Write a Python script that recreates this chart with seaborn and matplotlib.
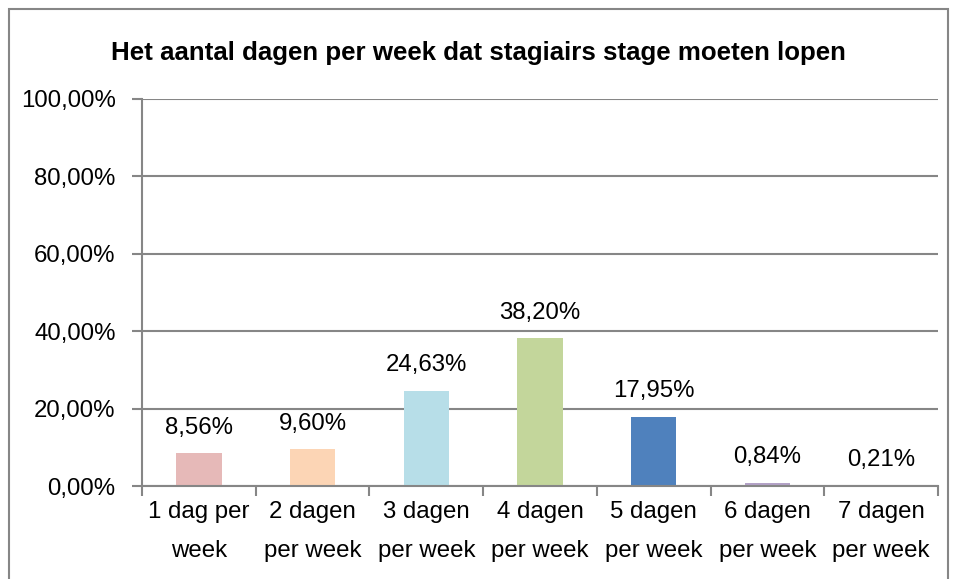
import matplotlib
matplotlib.use("Agg")
import matplotlib.pyplot as plt
import seaborn as sns
import pandas as pd
from matplotlib.patches import Rectangle

# Chart data
categories = ["1 dag per\nweek", "2 dagen\nper week", "3 dagen\nper week", "4 dagen\nper week",
              "5 dagen\nper week", "6 dagen\nper week", "7 dagen\nper week"]
percentages = [8.56, 9.60, 24.63, 38.20, 17.95, 0.84, 0.21]
bar_colors = ["#E6B9B8", "#FCD5B5", "#B7DEE8", "#C3D69B", "#4F81BD", "#B3A2C7", "#FAC090"]
y_ticks = [0, 20, 40, 60, 80, 100]
title = "Het aantal dagen per week dat stagiairs stage moeten lopen"

sns.set_style("white")
plt.rcParams["font.family"] = ["Liberation Sans", "DejaVu Sans"]

GRAY = "#868686"
FS = 17.3

df = pd.DataFrame({"cat": categories, "pct": percentages})

fig = plt.figure(figsize=(9.57, 5.79), dpi=100)
ax = fig.add_axes([142 / 957, 1 - 486 / 579, (938 - 142) / 957, (486 - 99) / 579])

sns.barplot(data=df, x="cat", y="pct", hue="cat", palette=bar_colors,
            width=0.4, legend=False, ax=ax, saturation=1, linewidth=0)

# data labels above the bars
for i, v in enumerate(percentages):
    ax.text(i, v + 3.7, f"{v:.2f}%".replace(".", ","), ha="center", va="bottom",
            fontsize=FS, color="black")

ax.set_ylim(0, 100)
ax.set_xlim(-0.5, len(categories) - 0.5)
ax.set_yticks(y_ticks)
ax.set_yticklabels([f"{t:.2f}%".replace(".", ",") for t in y_ticks], fontsize=FS, color="black")
ax.yaxis.grid(True, color=GRAY, linewidth=1.5)
ax.set_axisbelow(True)

# category boundary ticks on x axis
ax.set_xticks([i - 0.5 for i in range(len(categories) + 1)], minor=False)
ax.set_xticklabels([])
ax.set_xticks(range(len(categories)), minor=True)
ax.set_xticklabels(categories, minor=True, fontsize=FS, color="black", linespacing=2.0)
ax.tick_params(axis="x", which="major", length=7, width=1.5, color=GRAY, direction="out", bottom=True)
ax.tick_params(axis="x", which="minor", length=0, pad=11)
ax.tick_params(axis="y", length=7, width=1.5, color=GRAY, direction="out", left=True, pad=12)

ax.set_xlabel("")
ax.set_ylabel("")
for side in ["top", "right"]:
    ax.spines[side].set_visible(False)
for side in ["left", "bottom"]:
    ax.spines[side].set_color(GRAY)
    ax.spines[side].set_linewidth(1.5)

fig.text(0.5, 1 - 53 / 579, title, ha="center", va="center", fontsize=18.6,
         fontweight="bold", color="black")

# outer chart frame
fig.patches.append(Rectangle((9 / 957, -0.05), (948 - 9) / 957, 1.05 - 9 / 579,
                             transform=fig.transFigure, fill=False,
                             edgecolor=GRAY, linewidth=1.5))

fig.savefig("out.png", dpi=100)
